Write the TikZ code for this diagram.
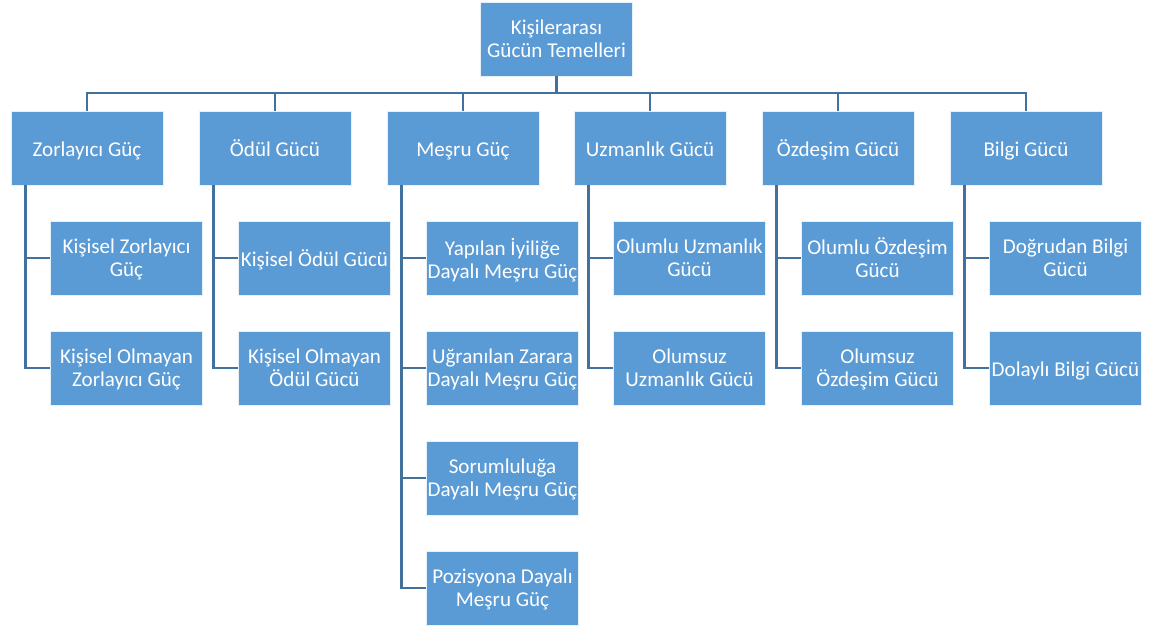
\documentclass[tikz,border=0pt]{standalone}
\usepackage{fontspec}
\setmainfont{Carlito}
\usetikzlibrary{positioning}
\definecolor{kutumavi}{HTML}{5B9BD5}
\definecolor{hatmavi}{HTML}{41719C}
\begin{document}
\begin{tikzpicture}[
			x=0.75pt, y=-0.75pt,
			kutu/.style={rectangle, fill=kutumavi, draw=white!85!kutumavi,
				line width=0.6pt, text=white, align=center,
				minimum width=114pt, minimum height=55.5pt,
				inner sep=1pt, font=\fontsize{15.8}{17.2}\selectfont,
				execute at begin node={\rule{0pt}{18pt}},
				execute at end node={\strut}},
			ikili/.style={kutu, text depth=0pt},
			hat/.style={line width=2pt, draw=hatmavi},
			]
			\useasboundingbox (0,0) rectangle (1155,630);
			
			% kok
			\node[ikili] (kok) at (556.5,39) {Kişilerarası\\Gücün Temelleri};
			\coordinate (bus) at (0,93);
			
			% birinci duzey
			\node[kutu] (zg) at (87,148)   {Zorlayıcı Güç};
			\node[kutu] (og) at (275,148)  {Ödül Gücü};
			\node[kutu] (mg) at (463,148)  {Meşru Güç};
			\node[kutu] (ug) at (650,148)  {Uzmanlık Gücü};
			\node[kutu] (dg) at (838,148)  {Özdeşim Gücü};
			\node[kutu] (bg) at (1026,148) {Bilgi Gücü};
			
			\draw[hat](kok.south)--(kok.south |- bus)-|(zg.north);
			\draw[hat](kok.south)--(kok.south |- bus)-|(og.north);
			\draw[hat](kok.south)--(kok.south |- bus)-|(mg.north);
			\draw[hat](kok.south)--(kok.south |- bus)-|(ug.north);
			\draw[hat](kok.south)--(kok.south |- bus)-|(dg.north);
			\draw[hat](kok.south)--(kok.south |- bus)-|(bg.north);
			
			% zorlayici
			\node[ikili] (zg1) at (126.5,258) {Kişisel Zorlayıcı\\Güç};
			\node[ikili] (zg2) at (126.5,368) {Kişisel Olmayan\\Zorlayıcı Güç};
			\draw[hat](zg.south west) ++(15,0) |- (zg1.west);
			\draw[hat](zg.south west) ++(15,0) |- (zg2.west);
			
			% odul
			\node[kutu] (og1) at (314.5,258) {Kişisel Ödül Gücü};
			\node[ikili] (og2) at (314.5,368) {Kişisel Olmayan\\Ödül Gücü};
			\draw[hat](og.south west) ++(15,0) |- (og1.west);
			\draw[hat](og.south west) ++(15,0) |- (og2.west);
			
			% mesru
			\node[ikili] (mg1) at (502.5,258) {Yapılan İyiliğe\\Dayalı Meşru Güç};
			\node[ikili] (mg2) at (502.5,368) {Uğranılan Zarara\\Dayalı Meşru Güç};
			\node[ikili] (mg3) at (502.5,478) {Sorumluluğa\\Dayalı Meşru Güç};
			\node[ikili] (mg4) at (502.5,588) {Pozisyona Dayalı\\Meşru Güç};
			\draw[hat](mg.south west) ++(15,0) |- (mg1.west);
			\draw[hat](mg.south west) ++(15,0) |- (mg2.west);
			\draw[hat](mg.south west) ++(15,0) |- (mg3.west);
			\draw[hat](mg.south west) ++(15,0) |- (mg4.west);
			
			% uzmanlik
			\node[ikili] (ug1) at (689.5,258) {Olumlu Uzmanlık\\Gücü};
			\node[ikili] (ug2) at (689.5,368) {Olumsuz\\Uzmanlık Gücü};
			\draw[hat](ug.south west) ++(15,0) |- (ug1.west);
			\draw[hat](ug.south west) ++(15,0) |- (ug2.west);
			
			% ozdesim
			\node[ikili] (dg1) at (877.5,258) {Olumlu Özdeşim\\Gücü};
			\node[ikili] (dg2) at (877.5,368) {Olumsuz\\Özdeşim Gücü};
			\draw[hat](dg.south west) ++(15,0) |- (dg1.west);
			\draw[hat](dg.south west) ++(15,0) |- (dg2.west);
			
			% bilgi
			\node[ikili] (bg1) at (1065.5,258) {Doğrudan Bilgi\\Gücü};
			\node[kutu] (bg2) at (1065.5,368) {Dolaylı Bilgi Gücü};
			\draw[hat](bg.south west) ++(15,0) |- (bg1.west);
			\draw[hat](bg.south west) ++(15,0) |- (bg2.west);
		\end{tikzpicture}
\end{document}
